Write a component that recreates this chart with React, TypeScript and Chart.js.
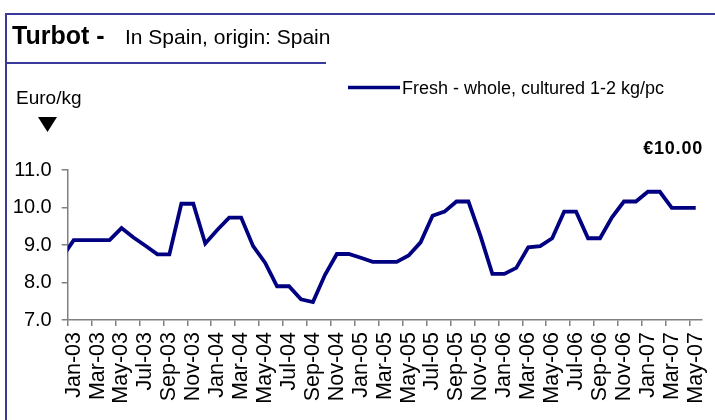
import React, { useEffect, useRef } from 'react';
import { Chart, registerables } from 'chart.js';

Chart.register(...registerables);

const FONT = "'Liberation Sans', Arial, Helvetica, sans-serif";

// Month categories (Dec-02 lies just before the visible axis and is clipped)
const months = [
  'Dec-02',
  'Jan-03', 'Feb-03', 'Mar-03', 'Apr-03', 'May-03', 'Jun-03', 'Jul-03', 'Aug-03', 'Sep-03', 'Oct-03', 'Nov-03', 'Dec-03',
  'Jan-04', 'Feb-04', 'Mar-04', 'Apr-04', 'May-04', 'Jun-04', 'Jul-04', 'Aug-04', 'Sep-04', 'Oct-04', 'Nov-04', 'Dec-04',
  'Jan-05', 'Feb-05', 'Mar-05', 'Apr-05', 'May-05', 'Jun-05', 'Jul-05', 'Aug-05', 'Sep-05', 'Oct-05', 'Nov-05', 'Dec-05',
  'Jan-06', 'Feb-06', 'Mar-06', 'Apr-06', 'May-06', 'Jun-06', 'Jul-06', 'Aug-06', 'Sep-06', 'Oct-06', 'Nov-06', 'Dec-06',
  'Jan-07', 'Feb-07', 'Mar-07', 'Apr-07', 'May-07',
];

// Euro/kg, fresh whole cultured turbot 1-2 kg/pc
const prices = [
  8.65,
  9.13, 9.13, 9.13, 9.13, 9.45, 9.2, 8.98, 8.75, 8.75, 10.1, 10.1, 9.04,
  9.4, 9.73, 9.73, 8.97, 8.53, 7.9, 7.9, 7.55, 7.48, 8.2, 8.76, 8.76,
  8.66, 8.55, 8.55, 8.55, 8.72, 9.07, 9.78, 9.89, 10.16, 10.16, 9.25, 8.23,
  8.23, 8.39, 8.94, 8.97, 9.18, 9.89, 9.89, 9.18, 9.18, 9.74, 10.16, 10.16,
  10.42, 10.42, 9.99, 9.99, 9.99,
];

const firstVisibleMonth = 'Jan-03';
const yMin = 7;
const yMax = 11;
const yStep = 1;

const titleBold = 'Turbot -';
const titleRest = 'In Spain, origin: Spain';
const unitLabel = 'Euro/kg';
const seriesName = 'Fresh - whole, cultured 1-2 kg/pc';
const latestPrice = '€10.00';

const LINE_COLOR = '#000080';
const FRAME_COLOR = '#3a3a9c';
const AXIS_COLOR = '#808080';

const headerPlugin = {
  id: 'headerDecor',
  afterDraw(chart: any) {
    const ctx = chart.ctx as CanvasRenderingContext2D;
    ctx.save();
    // frame lines
    ctx.strokeStyle = FRAME_COLOR;
    ctx.lineWidth = 2;
    ctx.beginPath();
    ctx.moveTo(5, 14);
    ctx.lineTo(715, 14);
    ctx.moveTo(6, 13);
    ctx.lineTo(6, 420);
    ctx.stroke();
    ctx.beginPath();
    ctx.moveTo(5, 63);
    ctx.lineTo(326, 63);
    ctx.stroke();

    // title
    ctx.fillStyle = '#000';
    ctx.textBaseline = 'alphabetic';
    ctx.textAlign = 'left';
    ctx.font = `bold 25px ${FONT}`;
    ctx.fillText(titleBold, 12, 44);
    ctx.font = `21px ${FONT}`;
    ctx.fillText(titleRest, 125, 44);

    // unit label + arrow
    ctx.font = `19px ${FONT}`;
    ctx.fillText(unitLabel, 16, 104);
    ctx.beginPath();
    ctx.moveTo(38, 117);
    ctx.lineTo(57, 117);
    ctx.lineTo(47.5, 132);
    ctx.closePath();
    ctx.fill();

    // legend
    const ds = chart.data.datasets[0];
    ctx.strokeStyle = ds.borderColor;
    ctx.lineWidth = 3.5;
    ctx.beginPath();
    ctx.moveTo(348, 87.5);
    ctx.lineTo(400, 87.5);
    ctx.stroke();
    ctx.fillStyle = '#000';
    ctx.font = `18px ${FONT}`;
    ctx.fillText(ds.label, 402, 93.5);

    // latest price
    ctx.font = `bold 18px ${FONT}`;
    ctx.textAlign = 'right';
    try { (ctx as any).letterSpacing = '0.8px'; } catch (e) {}
    ctx.fillText(latestPrice, 703, 153.5);
    try { (ctx as any).letterSpacing = '0px'; } catch (e) {}
    ctx.restore();
  },
};

export default function App() {
  const ref = useRef<HTMLCanvasElement | null>(null);

  useEffect(() => {
    document.body.style.margin = '0';
    const canvas = ref.current;
    if (!canvas) return;
    const chart = new Chart(canvas, {
      type: 'line',
      data: {
        labels: months,
        datasets: [
          {
            label: seriesName,
            data: prices,
            borderColor: LINE_COLOR,
            backgroundColor: LINE_COLOR,
            borderWidth: 3.8,
            pointRadius: 0,
            pointHoverRadius: 0,
            tension: 0,
            fill: false,
            clip: 0,
            borderJoinStyle: 'miter',
          },
        ],
      },
      options: {
        animation: false,
        responsive: false,
        devicePixelRatio: 1,
        events: [],
        layout: { padding: { top: 170, left: 0, right: 13.3, bottom: 0 } },
        plugins: {
          legend: { display: false },
          title: { display: false },
          tooltip: { enabled: false },
        },
        scales: {
          x: {
            type: 'category',
            min: firstVisibleMonth,
            offset: true,
            grid: {
              offset: true,
              drawOnChartArea: false,
              drawTicks: true,
              tickLength: 6,
              lineWidth: 1.5,
              tickColor: (c: any) =>
                c.type === 'tick' && c.index % 2 === 0 ? AXIS_COLOR : 'rgba(0,0,0,0)',
            },
            border: { display: true, color: AXIS_COLOR, width: 1.5 },
            ticks: {
              autoSkip: false,
              minRotation: 90,
              maxRotation: 90,
              padding: 6,
              color: '#000',
              font: { family: FONT, size: 21.5 },
              callback: function (this: any, value: any, index: number) {
                return index % 2 === 0 ? this.getLabelForValue(value) : '';
              },
            },
            afterFit: (s: any) => {
              s.height = 100;
              s.paddingLeft = 0;
              s.paddingRight = 0;
            },
          },
          y: {
            min: yMin,
            max: yMax,
            grid: {
              drawOnChartArea: false,
              drawTicks: true,
              tickLength: 6,
              lineWidth: 1.5,
              tickColor: AXIS_COLOR,
            },
            border: { display: true, color: AXIS_COLOR, width: 1.5 },
            ticks: {
              stepSize: yStep,
              padding: 10,
              color: '#000',
              font: { family: FONT, size: 20 },
              callback: (v: any) => Number(v).toFixed(1),
            },
            afterFit: (s: any) => {
              s.width = 67.7;
              s.paddingTop = 0;
              s.paddingBottom = 0;
            },
          },
        },
      },
      plugins: [headerPlugin],
    } as any);
    return () => chart.destroy();
  }, []);

  return (
    <div style={{ position: 'absolute', left: 0, top: 0, width: 715, height: 420, background: '#fff' }}>
      <canvas ref={ref} width={715} height={420} style={{ display: 'block' }} />
    </div>
  );
}
